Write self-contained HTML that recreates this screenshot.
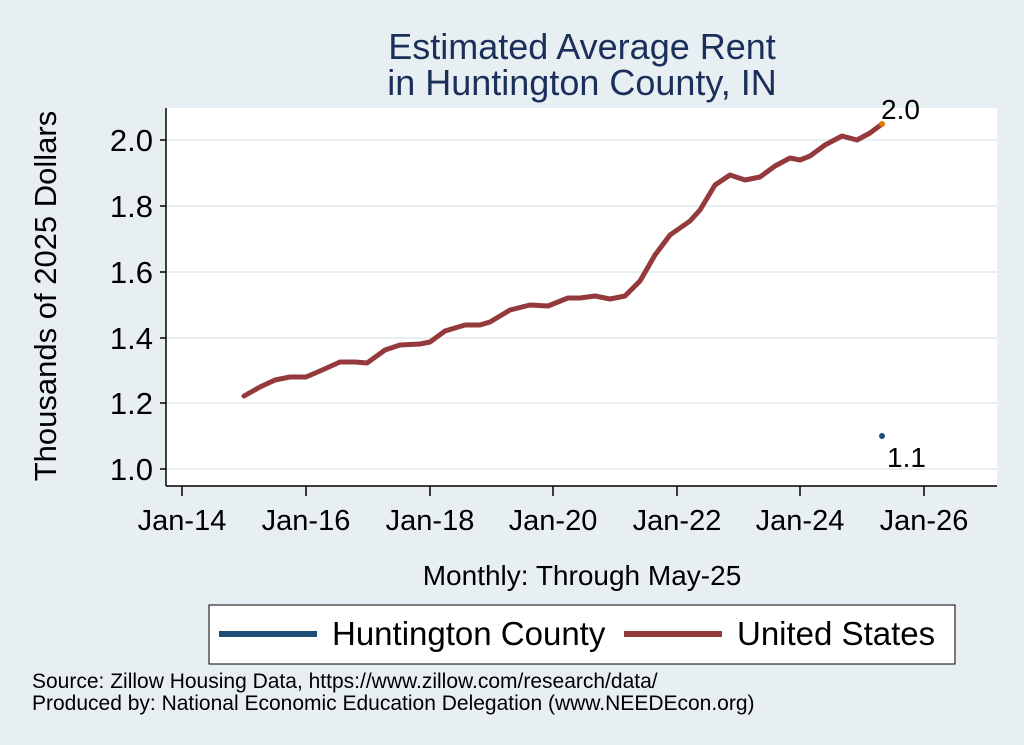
<!DOCTYPE html>
<html><head><style>body{margin:0;background:#e8eff2}svg{display:block}text{font-family:"Liberation Sans",sans-serif}</style></head>
<body><svg width="1024" height="745" xmlns="http://www.w3.org/2000/svg">
<rect width="1024" height="745" fill="#e8eff2"/>
<text x="582" y="59" font-size="36" fill="#1a2f5a" text-anchor="middle">Estimated Average Rent</text>
<text x="582" y="95" font-size="36" fill="#1a2f5a" text-anchor="middle">in Huntington County, IN</text>
<rect x="166" y="108" width="831" height="378" fill="#fff"/>
<g stroke="#e8eff2" stroke-width="2">
<line x1="166" x2="997" y1="140" y2="140"/><line x1="166" x2="997" y1="206" y2="206"/><line x1="166" x2="997" y1="272" y2="272"/><line x1="166" x2="997" y1="338" y2="338"/><line x1="166" x2="997" y1="403" y2="403"/><line x1="166" x2="997" y1="469" y2="469"/></g>
<g stroke="#000" stroke-width="1.5"><line x1="166" y1="108" x2="166" y2="486"/><line x1="166" y1="486" x2="997" y2="486"/>
<line x1="160" x2="166" y1="140" y2="140"/><line x1="160" x2="166" y1="206" y2="206"/><line x1="160" x2="166" y1="272" y2="272"/><line x1="160" x2="166" y1="338" y2="338"/><line x1="160" x2="166" y1="403" y2="403"/><line x1="160" x2="166" y1="469" y2="469"/>
<line x1="182" x2="182" y1="486" y2="496"/><line x1="306" x2="306" y1="486" y2="496"/><line x1="430" x2="430" y1="486" y2="496"/><line x1="553" x2="553" y1="486" y2="496"/><line x1="677" x2="677" y1="486" y2="496"/><line x1="800" x2="800" y1="486" y2="496"/><line x1="924" x2="924" y1="486" y2="496"/></g>
<g font-size="31" text-anchor="end"><text x="153" y="151">2.0</text><text x="153" y="217">1.8</text><text x="153" y="283">1.6</text><text x="153" y="349">1.4</text><text x="153" y="414">1.2</text><text x="153" y="480">1.0</text></g>
<g font-size="29" text-anchor="middle"><text x="182" y="530">Jan-14</text><text x="306" y="530">Jan-16</text><text x="430" y="530">Jan-18</text><text x="553" y="530">Jan-20</text><text x="677" y="530">Jan-22</text><text x="800" y="530">Jan-24</text><text x="924" y="530">Jan-26</text></g>
<text transform="translate(56,296) rotate(-90)" font-size="31" text-anchor="middle">Thousands of 2025 Dollars</text>
<text x="582" y="585" font-size="28" text-anchor="middle">Monthly: Through May-25</text>
<polyline fill="none" stroke="#943a3d" stroke-width="5" stroke-linejoin="round" stroke-linecap="round" points="244,396 260,387 275,380 290,377 306,377 320,371 340,362 355,362 367,363 385,350 400,345 420,344 430,342 445,331 465,325 480,325 490,322 510,310 530,305 548,306 568,298 580,298 595,296 610,299 625,296 640,281 655,255 670,235 690,221 700,210 715,185 730,175 745,180 760,177 775,166 790,158 800,160 810,156 825,145 842,136 857,140 870,133 882,124"/>
<circle cx="882" cy="124" r="3" fill="#e07b00"/>
<circle cx="882" cy="436" r="3" fill="#1f4e79"/>
<text x="881" y="119" font-size="28">2.0</text>
<text x="887" y="467" font-size="28">1.1</text>
<rect x="209" y="605" width="746" height="59" fill="#fff" stroke="#000" stroke-width="1"/>
<line x1="219" x2="317" y1="634" y2="634" stroke="#1f4e79" stroke-width="6"/>
<text x="332" y="645" font-size="33">Huntington County</text>
<line x1="624" x2="722" y1="634" y2="634" stroke="#943a3d" stroke-width="6"/>
<text x="737" y="645" font-size="33">United States</text>
<text x="32" y="688" font-size="21">Source: Zillow Housing Data, https://www.zillow.com/research/data/</text>
<text x="32" y="710" font-size="21">Produced by: National Economic Education Delegation (www.NEEDEcon.org)</text>
</svg></body></html>
